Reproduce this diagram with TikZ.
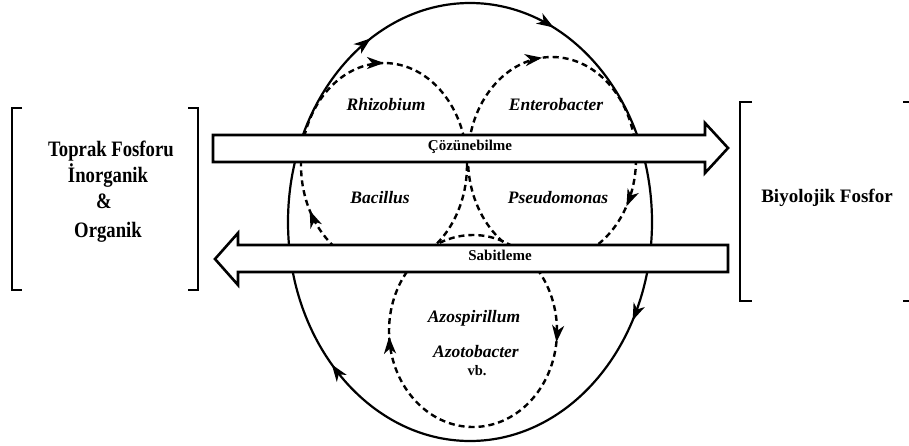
\documentclass[tikz,border=0pt]{standalone}
\usepackage{fontspec}
\setmainfont{Liberation Serif}
\newfontfamily\narrowserif[FakeStretch=0.85]{Liberation Serif}
\usetikzlibrary{arrows.meta,decorations.markings}

\begin{document}
\begin{tikzpicture}[x=1pt,y=-1pt,
  ring/.style={line width=2.2pt},
  dashring/.style={line width=2.4pt, dash pattern=on 6pt off 4pt},
  tipat/.style={postaction={decorate,decoration={markings,
      mark=at position #1 with {\arrow{Stealth[length=17pt,width=12pt,inset=5pt]}}}}},
  flow/.style={draw, fill=white, line width=2.6pt, line join=miter},
  brk/.style={line width=2pt},
  genus/.style={font=\fontsize{17.5}{20}\selectfont\bfseries\itshape, anchor=base, inner sep=0pt},
  process/.style={font=\fontsize{15}{18}\selectfont\bfseries, anchor=base, inner sep=0pt},
  pool/.style={font=\narrowserif\fontsize{22}{25}\selectfont\bfseries, anchor=base, inner sep=0pt},
  poolright/.style={font=\fontsize{19}{22}\selectfont\bfseries, anchor=base, inner sep=0pt},
  note/.style={font=\fontsize{14.5}{17}\selectfont\bfseries, anchor=base, inner sep=0pt}]

\useasboundingbox (0,0) rectangle (909,445);

% outer phosphorus cycle (clockwise)
\draw[ring, tipat=0.08, tipat=0.38, tipat=0.665, tipat=0.82]
  (652,222) arc[start angle=0, end angle=360, x radius=182, y radius=219];

% microbial sub-cycles
\draw[dashring, tipat=0.42, tipat=0.75]
  (467,165) arc[start angle=0, end angle=360, x radius=83, y radius=102];
\draw[dashring, tipat=0.083, tipat=0.733]
  (636,159) arc[start angle=0, end angle=360, x radius=84, y radius=102];
\draw[dashring, tipat=0.02, tipat=0.49]
  (557,331) arc[start angle=0, end angle=360, x radius=84, y radius=96];

% block arrows
\draw[flow] (213,135) -- (705,135) -- (705,123) -- (728,148) -- (705,173)
  -- (705,162) -- (213,162) -- cycle;
\draw[flow] (728,245) -- (238,245) -- (238,233) -- (215,259) -- (238,285)
  -- (238,272) -- (728,272) -- cycle;

% brackets
\draw[brk] (22,108) -- (12,108) -- (12,290) -- (22,290);
\draw[brk] (188,108) -- (198,108) -- (198,290) -- (188,290);
\draw[brk] (752,102) -- (740,102) -- (740,301) -- (752,301);
\draw[brk] (903,102) -- (911,102) -- (911,301) -- (903,301);

% labels
\node[pool] (soilA) at (111,156) {Toprak Fosforu};
\node[pool] (soilB) at (108,182) {İnorganik};
\node[pool] (soilC) at (104,208) {\&};
\node[pool] (soilD) at (108,237) {Organik};
\node[poolright] (bio) at (827,202) {Biyolojik Fosfor};

\node[genus] (rhizo) at (386,110) {Rhizobium};
\node[genus] (entero) at (556,110) {Enterobacter};
\node[genus] (bacil) at (380,203) {Bacillus};
\node[genus] (pseudo) at (558,203) {Pseudomonas};
\node[genus] (azosp) at (474,322) {Azospirillum};
\node[genus] (azoto) at (476,357) {Azotobacter};
\node[note] (etc) at (477,375) {vb.};

\node[process] (solub) at (470,150) {Çözünebilme};
\node[process] (fix) at (500,260) {Sabitleme};
\end{tikzpicture}
\end{document}
